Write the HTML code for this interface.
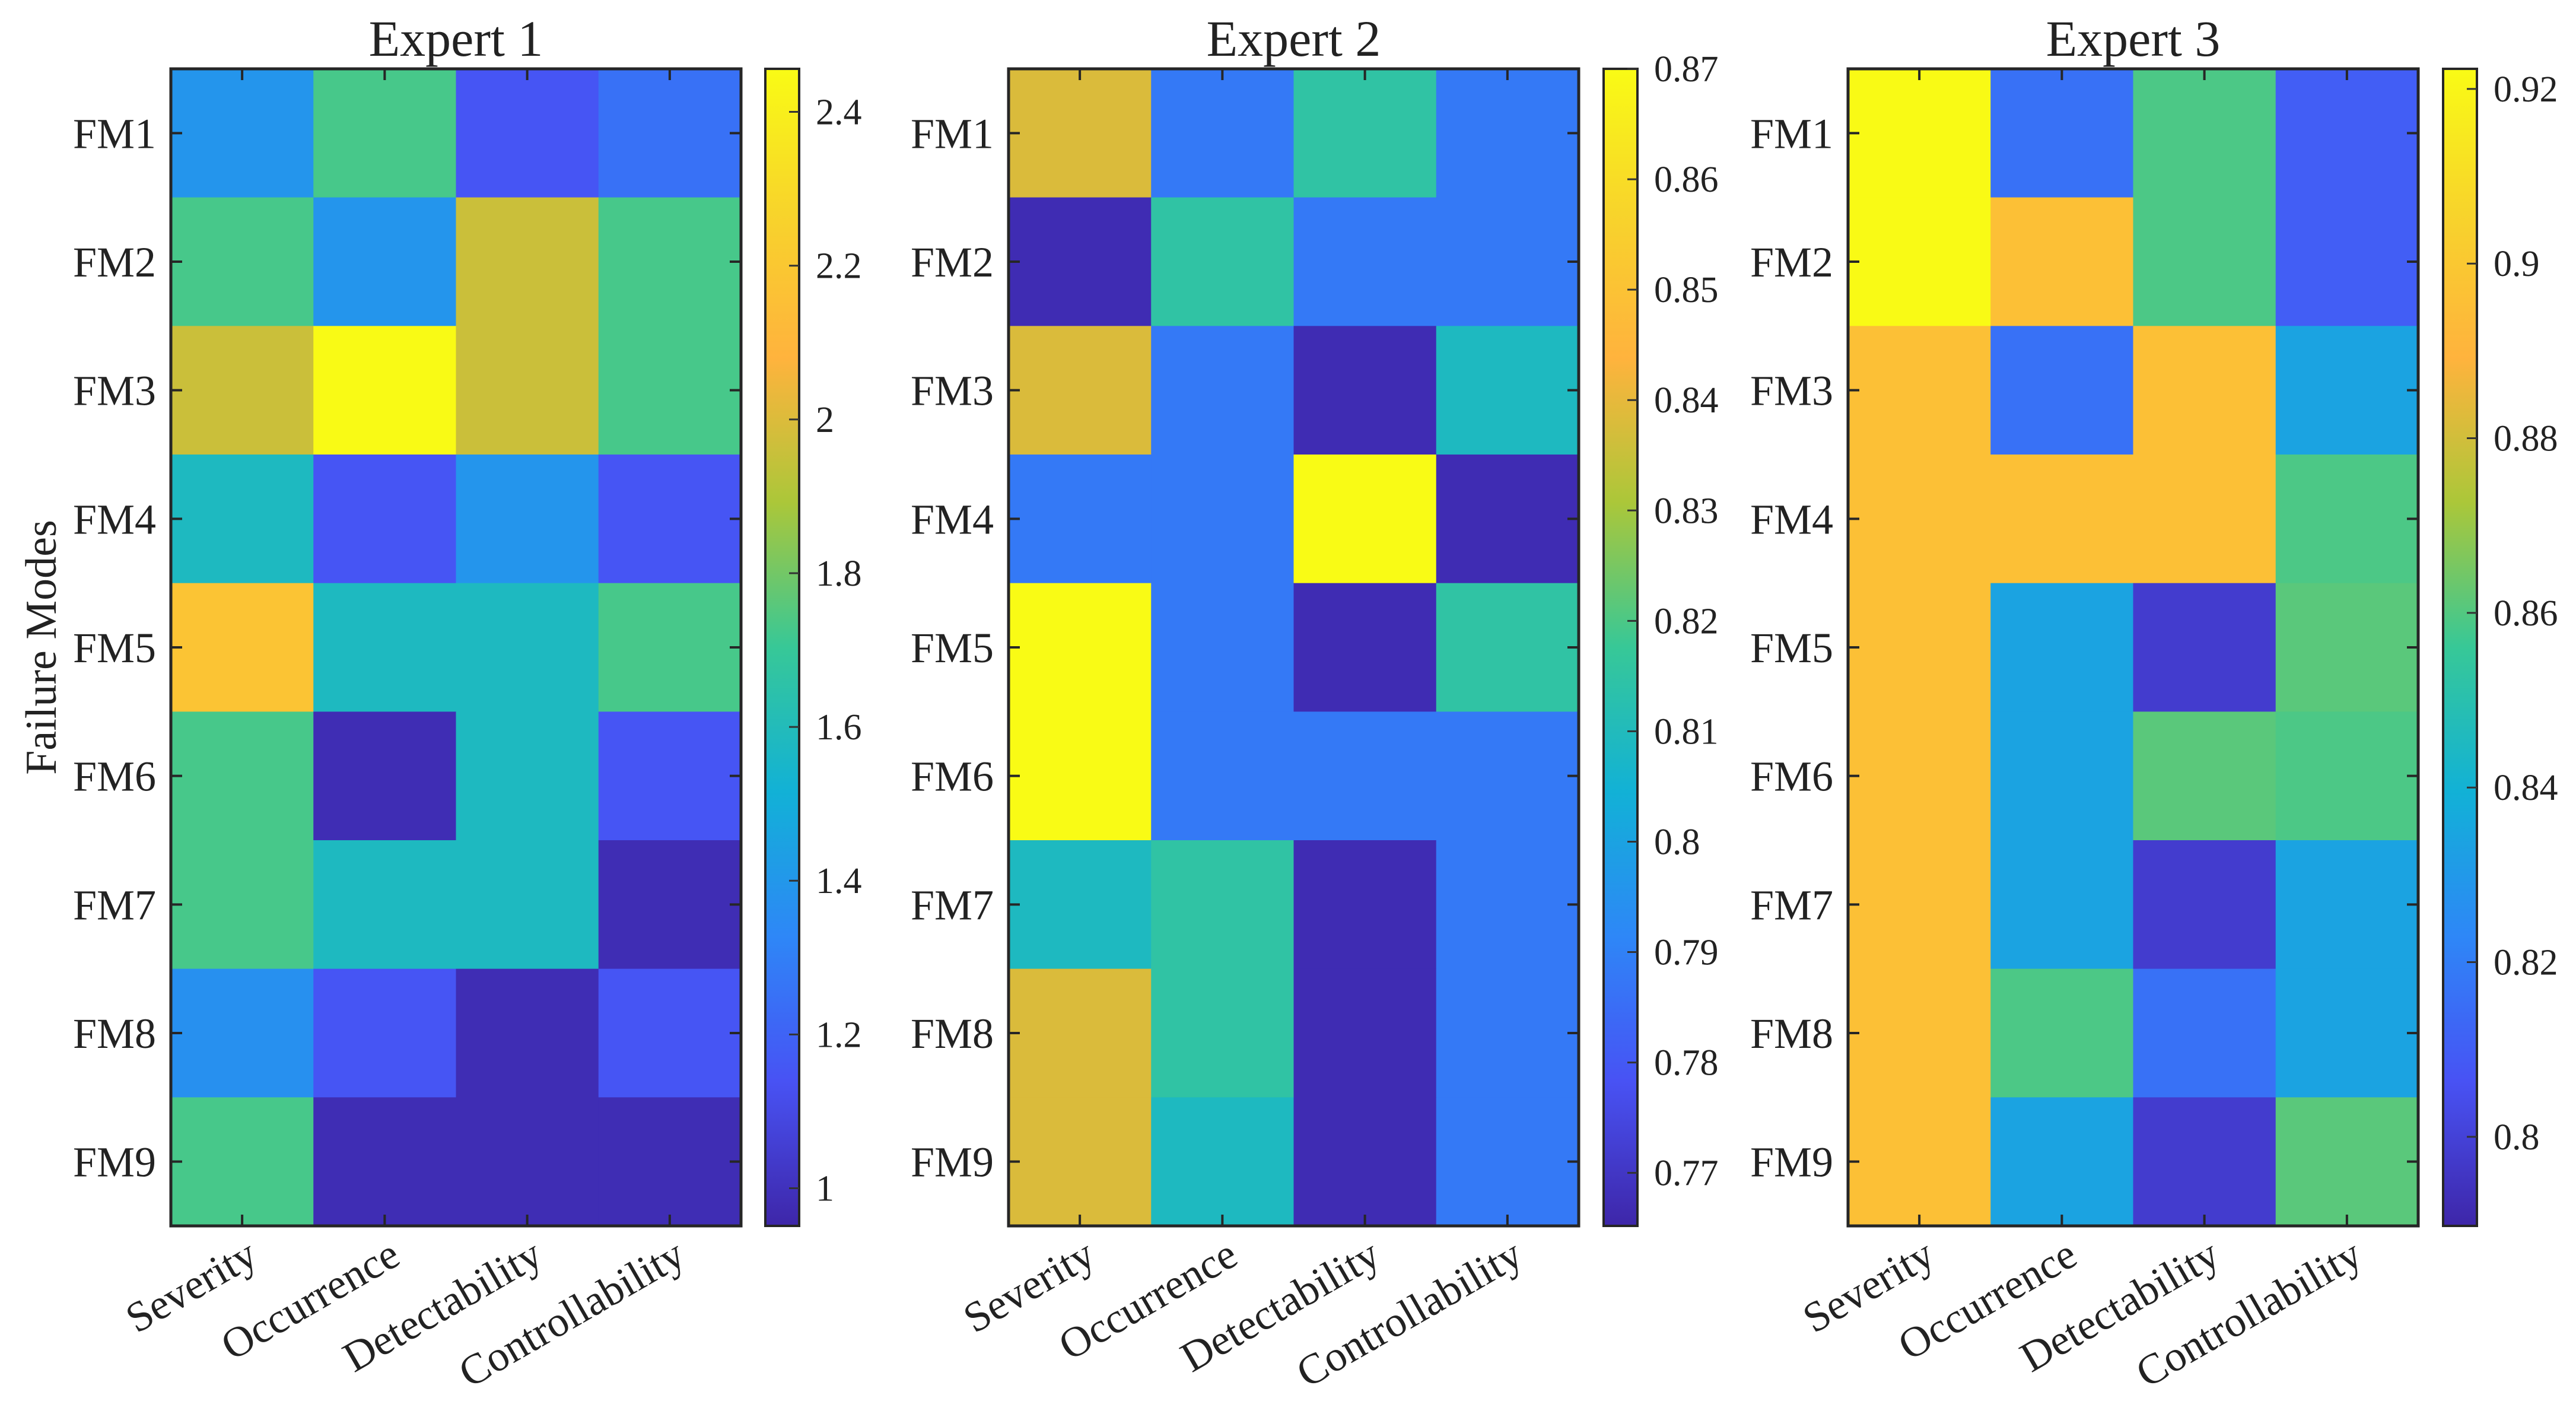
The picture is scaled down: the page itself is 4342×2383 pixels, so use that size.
<!DOCTYPE html>
<html><head><meta charset="utf-8">
<style>
html,body{margin:0;padding:0;background:#fff;}
svg{display:block;}
text{font-family:"Liberation Serif","DejaVu Serif",serif;fill:#222;}
</style></head>
<body>
<svg id="chart" width="4342" height="2383" viewBox="0 0 4342 2383" xmlns="http://www.w3.org/2000/svg"></svg>
<script>
const rowLabels = ["FM1","FM2","FM3","FM4","FM5","FM6","FM7","FM8","FM9"];
const colLabels = ["Severity","Occurrence","Detectability","Controllability"];
const panelTitles = ["Expert 1","Expert 2","Expert 3"];

const expert1Values = [
  [1.39,1.73,1.15,1.25],
  [1.73,1.39,1.96,1.73],
  [1.96,2.45,1.96,1.73],
  [1.58,1.15,1.39,1.15],
  [2.18,1.58,1.58,1.73],
  [1.73,0.98,1.58,1.15],
  [1.73,1.58,1.58,0.98],
  [1.37,1.15,0.98,1.15],
  [1.73,0.98,0.98,0.98]
];
const expert2Values = [
  [0.838,0.788,0.815,0.788],
  [0.767,0.815,0.788,0.788],
  [0.838,0.788,0.767,0.809],
  [0.788,0.788,0.870,0.767],
  [0.870,0.788,0.767,0.815],
  [0.870,0.788,0.788,0.788],
  [0.809,0.815,0.767,0.788],
  [0.838,0.815,0.767,0.788],
  [0.838,0.809,0.767,0.788]
];
const expert3Values = [
  [0.922,0.816,0.859,0.810],
  [0.922,0.896,0.859,0.810],
  [0.896,0.816,0.896,0.834],
  [0.896,0.896,0.896,0.859],
  [0.896,0.834,0.798,0.861],
  [0.896,0.834,0.861,0.859],
  [0.896,0.834,0.798,0.834],
  [0.896,0.859,0.816,0.834],
  [0.896,0.834,0.798,0.861]
];
const colorRanges = [[0.951,2.456],[0.7652,0.87],[0.7898,0.9223]];
const expert1Ticks = [1,1.2,1.4,1.6,1.8,2,2.2,2.4];
const expert2Ticks = [0.77,0.78,0.79,0.8,0.81,0.82,0.83,0.84,0.85,0.86,0.87];
const expert3Ticks = [0.8,0.82,0.84,0.86,0.88,0.9,0.92];
const expert1TickLabels = ["1","1.2","1.4","1.6","1.8","2","2.2","2.4"];
const expert2TickLabels = ["0.77","0.78","0.79","0.8","0.81","0.82","0.83","0.84","0.85","0.86","0.87"];
const expert3TickLabels = ["0.8","0.82","0.84","0.86","0.88","0.9","0.92"];

const allValues=[expert1Values,expert2Values,expert3Values];
const allTicks=[expert1Ticks,expert2Ticks,expert3Ticks];
const allTickLabels=[expert1TickLabels,expert2TickLabels,expert3TickLabels];

const stops=[[0,[0.2422,0.1504,0.6603]],[0.125,[0.2810,0.3228,0.9579]],[0.25,[0.1786,0.5289,0.9682]],
[0.375,[0.0689,0.6948,0.8394]],[0.5,[0.2161,0.7843,0.5923]],[0.625,[0.6720,0.7793,0.2227]],
[0.75,[1.0000,0.7000,0.2400]],[0.875,[0.9700,0.8300,0.1700]],[1,[0.9769,0.9839,0.0805]]];
function parula(t){t=Math.max(0,Math.min(1,t));
 for(let i=1;i<stops.length;i++){if(t<=stops[i][0]){const a=stops[i-1],b=stops[i];const f=(t-a[0])/(b[0]-a[0]);
  const c=a[1].map((v,k)=>Math.round(255*Math.min(1,v+(b[1][k]-v)*f)));return `rgb(${c[0]},${c[1]},${c[2]})`;}}
 return "rgb(249,251,20)";}

const NS="http://www.w3.org/2000/svg";
const svg=document.getElementById('chart');
function mk(tag,attrs,parent){const e=document.createElementNS(NS,tag);for(const k in attrs)e.setAttribute(k,attrs[k]);(parent||svg).appendChild(e);return e;}

const plotLefts=[288,1700,3115], plotW=961, plotTop=116, plotH=1950;
const cbLefts=[1290,2703,4118], cbW=57;
const nR=rowLabels.length,nC=colLabels.length;

const defs=mk('defs',{});
const grad=mk('linearGradient',{id:'parulaGrad',x1:'0',y1:'1',x2:'0',y2:'0'},defs);
for(let i=0;i<=40;i++){mk('stop',{offset:(i/40),'stop-color':parula(i/40)},grad);}

for(let p=0;p<3;p++){
  const g=mk('g',{});
  
  
  const X0=plotLefts[p],cw=plotW/nC,rh=plotH/nR;
  const [vmin,vmax]=colorRanges[p];
  const xPos=c=>X0+c*cw, yPos=r=>plotTop+r*rh;
  const colorScale=v=>parula((v-vmin)/(vmax-vmin));
  const vals=allValues[p];
  for(let r=0;r<nR;r++)for(let c=0;c<nC;c++){
    const cell=mk('rect',{x:xPos(c),y:yPos(r),width:cw+0.5,height:rh+0.5,fill:colorScale(vals[r][c])},g);
    
    
  }
  mk('rect',{x:X0,y:plotTop,width:plotW,height:plotH,fill:'none',stroke:'#262626','stroke-width':5},g);
  for(let c=0;c<nC;c++){const x=xPos(c)+cw/2;
    mk('line',{x1:x,y1:plotTop,x2:x,y2:plotTop+19,stroke:'#262626','stroke-width':4},g);
    mk('line',{x1:x,y1:plotTop+plotH,x2:x,y2:plotTop+plotH-19,stroke:'#262626','stroke-width':4},g);
    const ax=x+30, ay=plotTop+plotH+62;
    const t=mk('text',{x:ax,y:ay,'font-size':72,'text-anchor':'end',transform:`rotate(-30 ${ax} ${ay})`},g);
    t.textContent=colLabels[c];
    
    
  }
  for(let r=0;r<nR;r++){const y=yPos(r)+rh/2;
    mk('line',{x1:X0,y1:y,x2:X0+19,y2:y,stroke:'#262626','stroke-width':4},g);
    mk('line',{x1:X0+plotW,y1:y,x2:X0+plotW-19,y2:y,stroke:'#262626','stroke-width':4},g);
    const t=mk('text',{x:X0-25,y:y+25,'font-size':72,'text-anchor':'end'},g);
    t.textContent=rowLabels[r];
    
    
  }
  const title=mk('text',{x:X0+plotW/2,y:94,'font-size':86,'text-anchor':'middle'},g);
  title.textContent=panelTitles[p];
  
  
  const cb=mk('g',{},g);
  
  
  const cx=cbLefts[p];
  mk('rect',{x:cx,y:plotTop,width:cbW,height:plotH,fill:'url(#parulaGrad)',stroke:'#262626','stroke-width':4},cb);
  const cbY=v=>plotTop+plotH*(1-(v-vmin)/(vmax-vmin));
  allTicks[p].forEach((v,i)=>{const y=cbY(v);
    mk('line',{x1:cx+cbW-17,y1:y,x2:cx+cbW,y2:y,stroke:'#333','stroke-width':3},cb);
    const t=mk('text',{x:cx+cbW+28,y:y+21,'font-size':62},cb);
    t.textContent=allTickLabels[p][i];
    
    
  });
}
const yl=mk('text',{x:0,y:0,'font-size':74,'text-anchor':'middle',transform:'translate(94 1091) rotate(-90)'});
yl.textContent='Failure Modes';


</script>
</body></html>
